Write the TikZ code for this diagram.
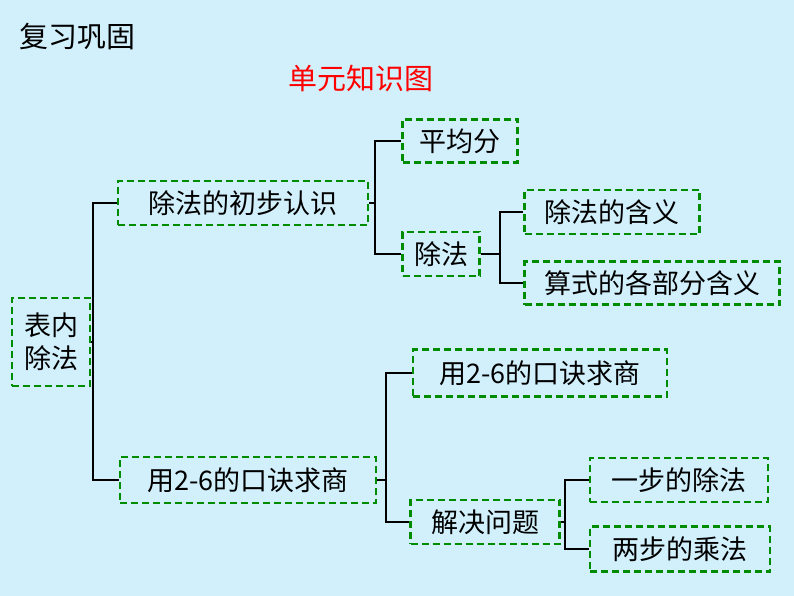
\documentclass[tikz,border=0pt]{standalone}
\usepackage{fontspec}
\setmainfont{Noto Sans CJK SC}
\begin{document}
\begin{tikzpicture}[x=1pt,y=-1pt,
 bx/.style={draw=green!55!black,line width=2.6pt,dash pattern=on 7pt off 4pt,inner sep=0pt,font=\fontsize{27}{33}\selectfont},
 br/.style={line width=1.2pt,black}]
\fill[cyan!18!white] (0,0) rectangle (794,596);
\useasboundingbox (0,0) rectangle (794,596);
\node[anchor=west,font=\fontsize{29}{34}\selectfont] (t) at (16,37) {复习巩固};
\node[red,font=\fontsize{29}{34}\selectfont] (s) at (361,78) {单元知识图};
\node[bx,minimum width=78,minimum height=88,align=center] (a) at (51,342) {表内\\除法};
\node[bx,minimum width=250,minimum height=44] (b1) at (243,203) {除法的初步认识};
\node[bx,minimum width=256,minimum height=46] (b2) at (248,480) {用2-6的口诀求商};
\node[bx,minimum width=115,minimum height=43] (c1) at (460,141) {平均分};
\node[bx,minimum width=77,minimum height=44] (c2) at (441,254) {除法};
\node[bx,minimum width=175,minimum height=44] (d1) at (612,212) {除法的含义};
\node[bx,minimum width=255,minimum height=43] (d2) at (652,283) {算式的各部分含义};
\node[bx,minimum width=254,minimum height=47] (c3) at (540,373) {用2-6的口诀求商};
\node[bx,minimum width=149,minimum height=44] (c4) at (485,522) {解决问题};
\node[bx,minimum width=178,minimum height=44] (e1) at (679,480) {一步的除法};
\node[bx,minimum width=180,minimum height=45] (e2) at (680,549) {两步的乘法};
\draw[br] (a.east) -- (93,342);
\draw[br] (b1.west) -| (93,342) |- (b2.west);
\draw[br] (b1.east) -- (375,203);
\draw[br] (c1.west) -| (375,203) |- (c2.west);
\draw[br] (b2.east) -- (386,480);
\draw[br] (c3.west) -| (386,480) |- (c4.west);
\draw[br] (c2.east) -- (500,254);
\draw[br] (d1.west) -| (500,254) |- (d2.west);
\draw[br] (c4.east) -- (565,522);
\draw[br] (e1.west) -| (565,522) |- (e2.west);
\end{tikzpicture}
\end{document}
